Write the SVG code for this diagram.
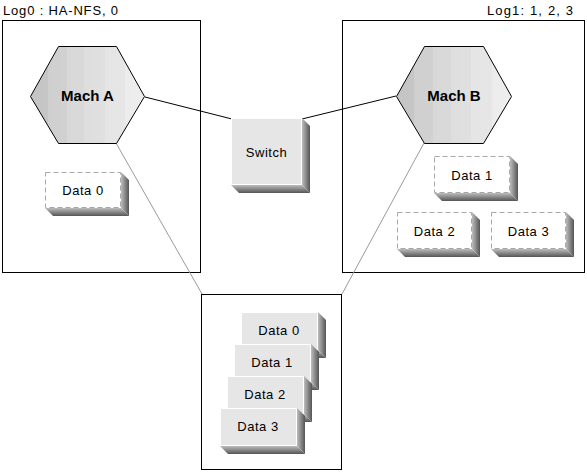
<svg xmlns="http://www.w3.org/2000/svg" width="587" height="472" viewBox="0 0 587 472">
<style>
  .frame{fill:none;stroke:#000;stroke-width:1}
  .hex{fill:url(#hexGrad);stroke:#000;stroke-width:1}
  .t{font-family:"Liberation Sans",Arial,sans-serif;font-size:13px;fill:#000}
  .d{letter-spacing:0.5px}
  .tb{font-family:"Liberation Sans",Arial,sans-serif;font-size:15px;font-weight:bold;fill:#000;text-anchor:middle}
  .tc{text-anchor:middle}
  .dash{fill:#fff;stroke:#a8a8a8;stroke-width:1;stroke-dasharray:5,3}
  .face{fill:#e6e6e6;stroke:#fff;stroke-width:1}
  .sr{fill:url(#shR)}
  .sb{fill:url(#shB)}
  .link{stroke:#000;stroke-width:1;fill:none}
  .glink{stroke:#9a9a9a;stroke-width:1;fill:none}
</style>
<defs>
  <linearGradient id="hexGrad" x1="0" y1="0" x2="1" y2="0">
    <stop offset="0" stop-color="#c4c4c4"/>
    <stop offset="0.15" stop-color="#c6c6c6"/>
    <stop offset="0.15" stop-color="#cfcfcf"/>
    <stop offset="0.32" stop-color="#d1d1d1"/>
    <stop offset="0.32" stop-color="#d8d8d8"/>
    <stop offset="0.47" stop-color="#d9d9d9"/>
    <stop offset="0.47" stop-color="#dedede"/>
    <stop offset="0.65" stop-color="#e0e0e0"/>
    <stop offset="0.65" stop-color="#e5e5e5"/>
    <stop offset="0.83" stop-color="#e6e6e6"/>
    <stop offset="0.83" stop-color="#ececec"/>
    <stop offset="1" stop-color="#eeeeee"/>
  </linearGradient>
  <linearGradient id="shR" x1="0" y1="0" x2="1" y2="0">
    <stop offset="0" stop-color="#bdbdbd"/>
    <stop offset="1" stop-color="#555"/>
  </linearGradient>
  <linearGradient id="shB" x1="0" y1="0" x2="0" y2="1">
    <stop offset="0" stop-color="#bdbdbd"/>
    <stop offset="1" stop-color="#555"/>
  </linearGradient>
</defs>

<g id="labels">
  <text class="t" x="3" y="15" textLength="115" lengthAdjust="spacing">Log0 : HA-NFS, 0</text>
  <text class="t" x="487" y="15" textLength="86" lengthAdjust="spacing">Log1: 1, 2, 3</text>
</g>

<g id="frames">
  <rect id="frameA" class="frame" x="2.5" y="20.5" width="198" height="252"/>
  <rect id="frameB" class="frame" x="342.5" y="20.5" width="242" height="252"/>
  <rect id="frameShared" class="frame" x="201.5" y="294.5" width="140" height="175"/>
</g>

<g id="connectors">
  <line class="link" x1="145" y1="97" x2="232" y2="119"/>
  <line class="link" x1="396" y1="96" x2="302" y2="119"/>
  <line class="glink" x1="116" y1="143" x2="202" y2="294"/>
  <line class="glink" x1="424" y1="143" x2="342" y2="294"/>
</g>

<g id="machA">
  <polygon class="hex" points="30.5,96.5 58.5,46.5 116.5,46.5 144.5,96.5 116.5,143.5 58.5,143.5"/>
  <text class="tb" x="87.5" y="101">Mach A</text>
</g>

<g id="machB">
  <polygon class="hex" points="396.5,96.5 424.5,46.5 483.5,46.5 511.5,96.5 483.5,143.5 424.5,143.5"/>
  <text class="tb" x="454" y="101">Mach B</text>
</g>

<g id="switch">
  <path class="sr" d="M302,118 L310,126 L310,193 L302,185 Z"/>
  <path class="sb" d="M231,185 L302,185 L310,193 L239,193 Z"/>
  <rect class="face" x="231.5" y="118.5" width="70" height="66"/>
  <text class="t tc d" x="266.5" y="157">Switch</text>
</g>

<g id="dataA0">
  <path class="sr" d="M121,172 L129,180 L129,216 L121,208 Z"/>
  <path class="sb" d="M45,208 L121,208 L129,216 L53,216 Z"/>
  <rect class="dash" x="45.5" y="172.5" width="75" height="35"/>
  <text class="t tc d" x="83" y="195">Data 0</text>
</g>

<g id="dataB1">
  <path class="sr" d="M510,156 L518,164 L518,201 L510,193 Z"/>
  <path class="sb" d="M434,193 L510,193 L518,201 L442,201 Z"/>
  <rect class="dash" x="434.5" y="156.5" width="75" height="36"/>
  <text class="t tc d" x="472" y="180">Data 1</text>
</g>

<g id="dataB2">
  <path class="sr" d="M472,212 L480,220 L480,257 L472,249 Z"/>
  <path class="sb" d="M397,249 L472,249 L480,257 L405,257 Z"/>
  <rect class="dash" x="397.5" y="212.5" width="74" height="36"/>
  <text class="t tc d" x="434.5" y="236">Data 2</text>
</g>

<g id="dataB3">
  <path class="sr" d="M566,212 L574,220 L574,257 L566,249 Z"/>
  <path class="sb" d="M491,249 L566,249 L574,257 L499,257 Z"/>
  <rect class="dash" x="491.5" y="212.5" width="74" height="36"/>
  <text class="t tc d" x="528.5" y="236">Data 3</text>
</g>

<g id="stack0">
  <path class="sr" d="M318,312 L326,320 L326,358 L318,350 Z"/>
  <path class="sb" d="M241,350 L318,350 L326,358 L249,358 Z"/>
  <rect class="face" x="241.5" y="312.5" width="76" height="37"/>
  <text class="t tc d" x="279" y="335">Data 0</text>
</g>
<g id="stack1">
  <path class="sr" d="M311,344 L319,352 L319,390 L311,382 Z"/>
  <path class="sb" d="M234,382 L311,382 L319,390 L242,390 Z"/>
  <rect class="face" x="234.5" y="344.5" width="76" height="37"/>
  <text class="t tc d" x="272" y="367">Data 1</text>
</g>
<g id="stack2">
  <path class="sr" d="M304,376 L312,384 L312,422 L304,414 Z"/>
  <path class="sb" d="M227,414 L304,414 L312,422 L235,422 Z"/>
  <rect class="face" x="227.5" y="376.5" width="76" height="37"/>
  <text class="t tc d" x="265" y="399">Data 2</text>
</g>
<g id="stack3">
  <path class="sr" d="M297,408 L305,416 L305,454 L297,446 Z"/>
  <path class="sb" d="M220,446 L297,446 L305,454 L228,454 Z"/>
  <rect class="face" x="220.5" y="408.5" width="76" height="37"/>
  <text class="t tc d" x="258" y="431">Data 3</text>
</g>
</svg>
